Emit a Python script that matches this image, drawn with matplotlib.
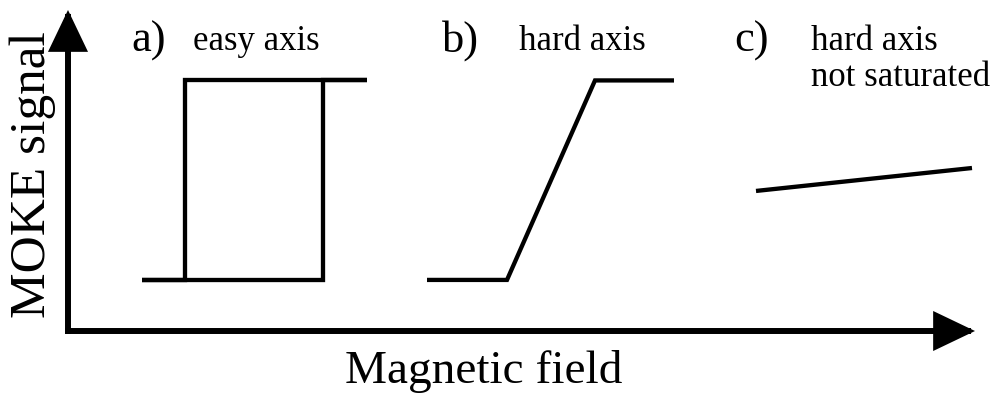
import numpy as np
import matplotlib
matplotlib.use("Agg")
import matplotlib.pyplot as plt

plt.rcParams['font.family'] = ['Liberation Serif', 'DejaVu Serif']

# field in arbitrary units, signal normalised: 0 = low state, 1 = high state
easy_lower_field = [7.4, 25.5, 25.5, 29.9]
easy_lower_signal = [0, 0, 1, 1]
easy_upper_field = [29.9, 11.7, 11.7, 7.4]
easy_upper_signal = [1, 1, 0, 0]

hard_field = [35.9, 43.9, 52.7, 60.6]
hard_signal = [0, 0, 1, 1]

unsat_field = [68.8, 90.4]
unsat_signal = [0.446, 0.561]

panel_letters = ["a)", "b)", "c)"]
panel_titles = [["easy axis"], ["hard axis"], ["hard axis", "not saturated"]]

W, H = 995, 394
fig = plt.figure(figsize=(W / 100, H / 100), dpi=100)

def fx(px):
    return px / W

def fy(py):
    return 1 - py / H

ax = fig.add_axes([fx(68), fy(331), fx(975) - fx(68), fy(10) - fy(331)])
ax.set_xlim(0, 90.7)
ax.set_ylim(-0.256, 1.353)
ax.axis('off')

lw = 3.1
kw = dict(color='black', lw=lw, solid_joinstyle='miter', solid_capstyle='butt')
ax.plot(easy_lower_field, easy_lower_signal, **kw)
ax.plot(easy_upper_field, easy_upper_signal, **kw)
ax.plot(hard_field, hard_signal, **kw)
ax.plot(unsat_field, unsat_signal, **kw)

# axis arrows
arrow = dict(arrowstyle='-|>,head_length=2.3,head_width=1.1', mutation_scale=10,
             color='black', lw=4.3, shrinkA=0, shrinkB=0, joinstyle='miter',
             capstyle='projecting')
ax.annotate('', xy=(1, 0), xytext=(0, 0), xycoords='axes fraction',
            textcoords='axes fraction', arrowprops=arrow, annotation_clip=False)
ax.annotate('', xy=(0, 1), xytext=(0, 0), xycoords='axes fraction',
            textcoords='axes fraction', arrowprops=arrow, annotation_clip=False)

# panel labels
letter_x = [131, 442, 734]
title_x = [193, 519, 811]
for lx, tx, letter, lines in zip(letter_x, title_x, panel_letters, panel_titles):
    fig.text(fx(lx), fy(52), letter, fontsize=32, ha='left', va='baseline')
    for i, line in enumerate(lines):
        fig.text(fx(tx), fy(50 + 36 * i), line, fontsize=25, ha='left',
                 va='baseline')

fig.text(fx(33), fy(175), "MOKE signal", fontsize=37, rotation=90,
         ha='center', va='center')
fig.text(fx(484), fy(383), "Magnetic field", fontsize=34, ha='center',
         va='baseline')

fig.savefig("out.png", dpi=100)
